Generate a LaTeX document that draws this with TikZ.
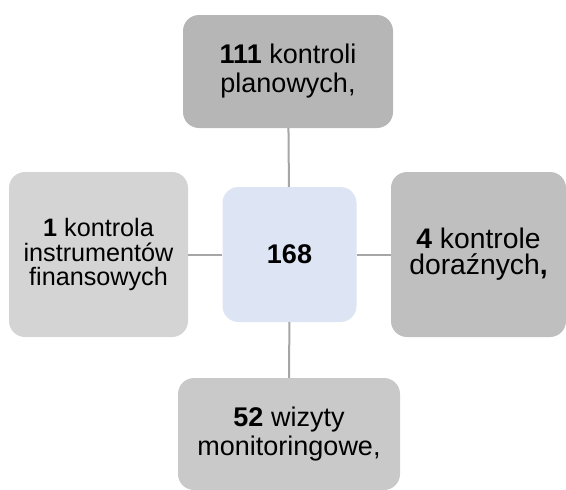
\documentclass[tikz,border=0pt]{standalone}
\usepackage{fontspec}
\setmainfont{Liberation Sans}

\definecolor{boxtop}{HTML}{B6B6B6}
\definecolor{boxright}{HTML}{BFBFBF}
\definecolor{boxbottom}{HTML}{C9C9C9}
\definecolor{boxleft}{HTML}{D4D4D4}
\definecolor{boxcenter}{HTML}{DDE4F3}
\definecolor{linkgray}{HTML}{A6A6A6}

\begin{document}
\begin{tikzpicture}[
    x=1pt, y=-1pt,
    font=\fontsize{27}{29}\selectfont,
    box/.style={
        rectangle, rounded corners=16pt, draw=none,
        align=center, inner sep=0pt
    },
    link/.style={draw=linkgray, line width=2pt},
]

    % Frame of the whole picture (pixel grid of the reference).
    \useasboundingbox (0,0) rectangle (566,490);

    % ---------- centre ----------
    \node[box, fill=boxcenter, minimum width=134pt, minimum height=135pt]
        (suma) at (289.5, 254.5) {\textbf{168}};

    % ---------- four outer boxes ----------
    \node[box, fill=boxtop, minimum width=210pt, minimum height=113pt]
        (planowe) at (288, 71.5) {\textbf{111} kontroli\\planowych,};
    \node[box, fill=boxleft, minimum width=179pt, minimum height=165pt,
          font=\fontsize{25.2}{24.5}\selectfont]
        (instrumenty) at (98.5, 254.5) {\textbf{1} kontrola\\instrumentów\\finansowych};
    \node[box, fill=boxright, minimum width=175pt, minimum height=165pt,
          font=\fontsize{28.3}{26}\selectfont]
        (dorazne) at (478.5, 254.5) {\textbf{4} kontrole\\doraźnych\textbf{,}};
    \node[box, fill=boxbottom, minimum width=222pt, minimum height=112pt]
        (wizyty) at (289, 434) {\textbf{52} wizyty\\monitoringowe,};

    % ---------- connectors ----------
    \draw[link] (planowe) -- (suma);
    \draw[link] (instrumenty) -- (suma);
    \draw[link] (suma) -- (dorazne);
    \draw[link] (suma) -- (wizyty);

\end{tikzpicture}
\end{document}
